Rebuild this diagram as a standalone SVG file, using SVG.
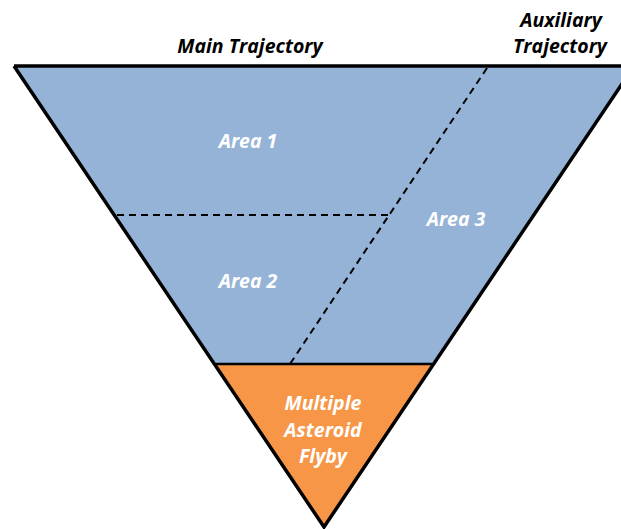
<svg xmlns="http://www.w3.org/2000/svg" width="621" height="529" viewBox="0 0 621 529">
<style>
.t{font-family:"Open Sans","Liberation Sans",sans-serif;font-weight:bold;font-style:italic;font-size:19.5px;text-anchor:middle}
.w{fill:#ffffff}
.k{fill:#000000}
.dash{stroke:#000;stroke-width:2;stroke-dasharray:7,5;fill:none}
</style>
<rect width="621" height="529" fill="#ffffff"/>
<g id="upper">
<polygon points="14,66 634,66 432,364 216,364" fill="#95B3D7"/>
</g>
<g id="bottom">
<polygon points="216,364 432,364 324,527" fill="#F79646"/>
</g>
<g id="connectors">
<line class="dash" x1="117" y1="215" x2="388" y2="215"/>
<line class="dash" x1="487" y1="68" x2="290" y2="364"/>
<line x1="216" y1="364" x2="432" y2="364" stroke="#000" stroke-width="2.5"/>
<polyline points="14,66 324,527 634,66 14,66" fill="none" stroke="#000" stroke-width="3.5" stroke-linejoin="miter"/>
</g>
<g id="labels">
<text class="t k" x="250" y="53">Main Trajectory</text>
<text class="t k" x="561" y="27">Auxiliary</text>
<text class="t k" x="560" y="53">Trajectory</text>
<text class="t w" x="248" y="148">Area 1</text>
<text class="t w" x="248" y="288">Area 2</text>
<text class="t w" x="456" y="226">Area 3</text>
<text class="t w" x="323" y="410">Multiple</text>
<text class="t w" x="323" y="437">Asteroid</text>
<text class="t w" x="323" y="463">Flyby</text>
</g>
</svg>
